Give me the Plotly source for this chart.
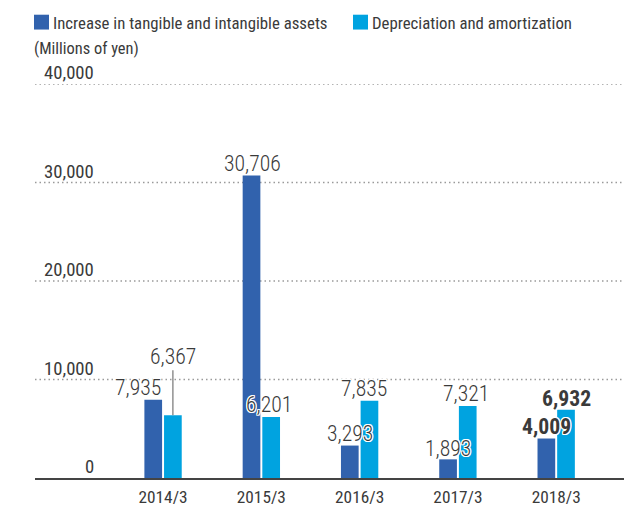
import plotly.graph_objects as go

# ---- data ----
categories = ["2014/3", "2015/3", "2016/3", "2017/3", "2018/3"]
increase_assets = [7935, 30706, 3293, 1893, 4009]
depreciation = [6367, 6201, 7835, 7321, 6932]
y_ticks = [0, 10000, 20000, 30000, 40000]
series_names = ["Increase in tangible and intangible assets", "Depreciation and amortization"]
unit_label = "(Millions of yen)"

# ---- style ----
W, H = 624, 507
L, R, T, B = 35, 0, 84, 25
PW, PH = W - L - R, H - T - B
FONT = "Roboto Condensed, Liberation Sans Narrow, Roboto, sans-serif"
TXT = "#3a3a3a"
WGT = 400
LBL_WGT = 300
C_DARK = "#3162AD"
C_LIGHT = "#00A3E0"
HALO = ("white 1px 1px 0px, white -1px -1px 0px, white 1px -1px 0px, white -1px 1px 0px, "
        "white 0px 1px 0px, white 0px -1px 0px, white 1px 0px 0px, white -1px 0px 0px")


def px_x(p):
    return (p - L) / PW


def px_y(p):
    return (H - B - p) / PH


fig = go.Figure()
fig.add_trace(go.Bar(x=list(range(len(categories))), y=increase_assets, name=series_names[0],
                     marker=dict(color=C_DARK, line=dict(width=0)), showlegend=False))
fig.add_trace(go.Bar(x=list(range(len(categories))), y=depreciation, name=series_names[1],
                     marker=dict(color=C_LIGHT, line=dict(width=0)), showlegend=False))

shapes = []
annotations = []

# dotted gridlines (baseline is the x axis line)
for t in y_ticks[1:]:
    shapes.append(dict(type="line", xref="paper", yref="y", x0=0, x1=1, y0=t, y1=t,
                       line=dict(color="#9a9a9a", width=1.5, dash="1.5px,3px"), layer="below"))
# y tick labels sitting above the gridlines
for t in y_ticks:
    annotations.append(dict(xref="paper", yref="y", x=px_x(96), y=t, xanchor="right", yanchor="middle",
                            yshift=11, text=f"{t:,}", showarrow=False,
                            font=dict(family=FONT, size=18.7, color=TXT, weight=WGT)))

# data labels
off = 0.1
dark_shift = [(-15, 12), (1, 12), (0, 12), (0, 11), (0, 12)]
light_shift = [(0, 59), (-2, 12), (-5, 12), (-2, 12), (0, 11)]
last = len(categories) - 1
LBL = 21.7


def lbl_font(i):
    return dict(family=FONT, size=LBL, color=TXT, shadow=HALO, weight=700 if i == last else LBL_WGT)


for i, v in enumerate(increase_assets):
    annotations.append(dict(xref="x", yref="y", x=i - off, y=v, text=f"{v:,}", showarrow=False,
                            xshift=dark_shift[i][0], yshift=dark_shift[i][1], yanchor="middle",
                            font=lbl_font(i)))
for i, v in enumerate(depreciation):
    if light_shift[i][1] > 30:
        annotations.append(dict(xref="x", yref="y", x=i + off, y=v, text=f"{v:,}", showarrow=True,
                                arrowhead=0, arrowwidth=1.3, arrowcolor="#808080", standoff=0,
                                ax=light_shift[i][0], ay=-light_shift[i][1], font=lbl_font(i)))
    else:
        annotations.append(dict(xref="x", yref="y", x=i + off, y=v, text=f"{v:,}", showarrow=False,
                                xshift=light_shift[i][0], yshift=light_shift[i][1], yanchor="middle",
                                font=lbl_font(i)))

# legend (custom squares + text)
leg = [(34, C_DARK, series_names[0]), (353, C_LIGHT, series_names[1])]
for x0, col, name in leg:
    shapes.append(dict(type="rect", xref="paper", yref="paper", x0=px_x(x0), x1=px_x(x0 + 15),
                       y0=px_y(29), y1=px_y(14), fillcolor=col, line=dict(width=0)))
    annotations.append(dict(xref="paper", yref="paper", x=px_x(x0 + 17), y=px_y(22), xanchor="left",
                            yanchor="middle", text=name, showarrow=False,
                            font=dict(family=FONT, size=16.8, color=TXT, weight=WGT)))
annotations.append(dict(xref="paper", yref="paper", x=px_x(32), y=px_y(48), xanchor="left",
                        yanchor="middle", text=unit_label, showarrow=False,
                        font=dict(family=FONT, size=16.4, color=TXT, weight=WGT)))

fig.update_layout(
    width=W, height=H, margin=dict(l=L, r=R, t=T, b=B),
    paper_bgcolor="white", plot_bgcolor="white",
    barmode="group", bargap=0.6, bargroupgap=0.1,
    shapes=shapes, annotations=annotations,
    xaxis=dict(tickmode="array", tickvals=list(range(len(categories))), ticktext=categories,
               range=[-1.303, 4.69], showgrid=False, zeroline=False, showline=True,
               linecolor="#444444", linewidth=1.5, ticks="", ticklabelstandoff=2,
               tickfont=dict(family=FONT, size=17.3, color=TXT, weight=WGT), fixedrange=True),
    yaxis=dict(range=[0, 40000], showgrid=False, zeroline=False, showticklabels=False,
               showline=False, fixedrange=True),
    showlegend=False,
)

fig.write_html("out.html", config={"displayModeBar": False},
               post_script="document.body.style.margin='0';")
